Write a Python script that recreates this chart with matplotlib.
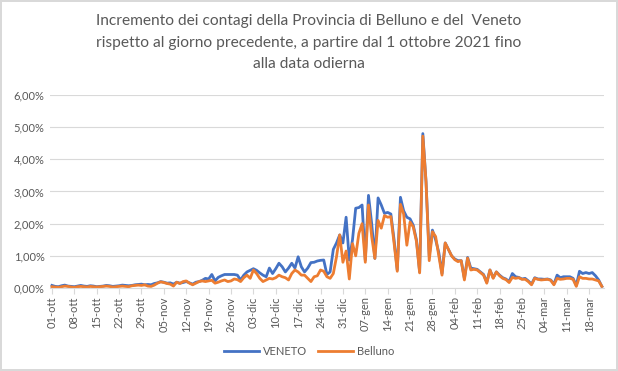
import matplotlib
matplotlib.use("Agg")
import matplotlib.pyplot as plt
from matplotlib.ticker import FuncFormatter, MultipleLocator

plt.rcParams['font.family'] = ['Lato', 'DejaVu Sans']

# incremento giornaliero (%) dal 01-ott-2021 al 22-mar-2022
veneto = [
    0.08, 0.05, 0.04, 0.07, 0.09, 0.06, 0.05,
    0.04, 0.06, 0.08, 0.06, 0.05, 0.07, 0.06,
    0.04, 0.05, 0.06, 0.08, 0.07, 0.05, 0.06,
    0.07, 0.09, 0.08, 0.07, 0.08, 0.10, 0.11,
    0.12, 0.10, 0.11, 0.10, 0.14, 0.16, 0.20,
    0.18, 0.15, 0.16, 0.12, 0.18, 0.15, 0.17,
    0.20, 0.16, 0.12, 0.18, 0.20, 0.24, 0.30,
    0.28, 0.42, 0.22, 0.33, 0.38, 0.42, 0.42,
    0.42, 0.42, 0.40, 0.25, 0.40, 0.50, 0.55,
    0.60, 0.55, 0.47, 0.40, 0.35, 0.62, 0.45,
    0.60, 0.77, 0.66, 0.50, 0.62, 0.77, 0.62,
    0.97, 0.66, 0.50, 0.62, 0.79, 0.80, 0.84,
    0.86, 0.87, 0.42, 0.50, 1.20, 1.40, 1.65,
    1.40, 2.20, 0.87, 1.50, 2.48, 2.50, 2.58,
    0.87, 2.88, 2.00, 0.92, 2.80, 2.58, 2.32,
    2.35, 2.30, 1.50, 0.56, 2.82, 2.40, 2.20,
    2.15, 1.95, 1.50, 0.50, 4.80, 3.30, 1.00,
    1.80, 1.50, 1.10, 0.45, 1.40, 1.20, 1.00,
    0.90, 0.85, 0.85, 0.30, 0.95, 0.62, 0.60,
    0.58, 0.50, 0.42, 0.18, 0.56, 0.32, 0.50,
    0.40, 0.32, 0.28, 0.20, 0.45, 0.35, 0.33,
    0.28, 0.30, 0.22, 0.12, 0.32, 0.28, 0.28,
    0.27, 0.28, 0.25, 0.12, 0.40, 0.32, 0.35,
    0.35, 0.35, 0.30, 0.08, 0.52, 0.45, 0.48,
    0.45, 0.48, 0.38, 0.25, 0.05,
]
belluno = [
    0.04, 0.03, 0.02, 0.04, 0.06, 0.05, 0.03,
    0.02, 0.04, 0.05, 0.04, 0.03, 0.05, 0.04,
    0.03, 0.04, 0.05, 0.06, 0.05, 0.03, 0.04,
    0.05, 0.06, 0.05, 0.04, 0.07, 0.08, 0.09,
    0.08, 0.10, 0.06, 0.05, 0.09, 0.15, 0.19,
    0.17, 0.14, 0.12, 0.06, 0.18, 0.14, 0.20,
    0.22, 0.15, 0.10, 0.15, 0.20, 0.22, 0.20,
    0.22, 0.24, 0.15, 0.18, 0.22, 0.25, 0.20,
    0.22, 0.28, 0.26, 0.20, 0.32, 0.40, 0.30,
    0.56, 0.45, 0.30, 0.20, 0.25, 0.30, 0.28,
    0.32, 0.40, 0.35, 0.32, 0.25, 0.45, 0.56,
    0.50, 0.40, 0.40, 0.30, 0.20, 0.35, 0.38,
    0.56, 0.52, 0.35, 0.30, 0.45, 0.97, 1.65,
    0.80, 1.15, 0.28, 1.38, 1.00, 1.70, 2.00,
    0.80, 2.58, 1.60, 0.92, 2.10, 1.86, 2.25,
    2.20, 2.22, 1.40, 0.52, 2.60, 2.30, 1.33,
    2.05, 1.90, 1.45, 0.47, 4.72, 3.30, 0.85,
    1.75, 1.60, 1.00, 0.40, 1.40, 1.20, 1.00,
    0.88, 0.82, 0.85, 0.25, 0.93, 0.56, 0.58,
    0.56, 0.48, 0.40, 0.15, 0.56, 0.30, 0.50,
    0.38, 0.30, 0.26, 0.17, 0.33, 0.30, 0.32,
    0.27, 0.27, 0.20, 0.10, 0.30, 0.27, 0.25,
    0.26, 0.27, 0.24, 0.10, 0.30, 0.27, 0.28,
    0.30, 0.30, 0.27, 0.05, 0.35, 0.30, 0.30,
    0.28, 0.28, 0.25, 0.22, 0.05,
]
tick_labels = ["01-ott", "08-ott", "15-ott", "22-ott", "29-ott",
               "05-nov", "12-nov", "19-nov", "26-nov",
               "03-dic", "10-dic", "17-dic", "24-dic", "31-dic",
               "07-gen", "14-gen", "21-gen", "28-gen",
               "04-feb", "11-feb", "18-feb", "25-feb",
               "04-mar", "11-mar", "18-mar"]

days = list(range(len(veneto)))

fig = plt.figure(figsize=(6.18, 3.71), dpi=100)
fig.patch.set_edgecolor('#D9D9D9')
fig.patch.set_linewidth(1.5)
ax = fig.add_axes([0.081, 0.2237, 0.896, 0.5203])

ax.plot(days, veneto, color='#4472C4', linewidth=2.0, label='VENETO', solid_joinstyle='round')
ax.plot(days, belluno, color='#ED7D31', linewidth=2.0, label='Belluno', solid_joinstyle='round')

ax.set_xlim(-0.6, len(veneto) - 0.4)
ax.set_ylim(0, 6)
ax.yaxis.set_major_locator(MultipleLocator(1))
ax.yaxis.set_major_formatter(FuncFormatter(lambda v, p: ("%.2f%%" % v).replace('.', ',')))
ax.set_xticks(range(0, 7 * len(tick_labels), 7))
ax.set_xticklabels(tick_labels, rotation=90)

ax.grid(axis='y', color='#D9D9D9', linewidth=0.8)
ax.set_axisbelow(True)
for s in ['top', 'right', 'left']:
    ax.spines[s].set_visible(False)
ax.spines['bottom'].set_color('#D9D9D9')
ax.tick_params(axis='y', length=0, labelsize=8, colors='#595959', pad=4)
ax.tick_params(axis='x', length=4, color='#D9D9D9', labelsize=8, labelcolor='#595959', pad=2)

fig.suptitle("Incremento dei contagi della Provincia di Belluno e del  Veneto\n"
             "rispetto al giorno precedente, a partire dal 1 ottobre 2021 fino\n"
             "alla data odierna", fontsize=11.2, color='#595959', y=0.962, linespacing=1.7)

fig.legend(loc='center', bbox_to_anchor=(0.5, 0.052), ncol=2, frameon=False,
           fontsize=8, labelcolor='#595959', handlelength=3.2, columnspacing=1.0,
           handletextpad=0.3)

fig.savefig('out.png', dpi=100)
